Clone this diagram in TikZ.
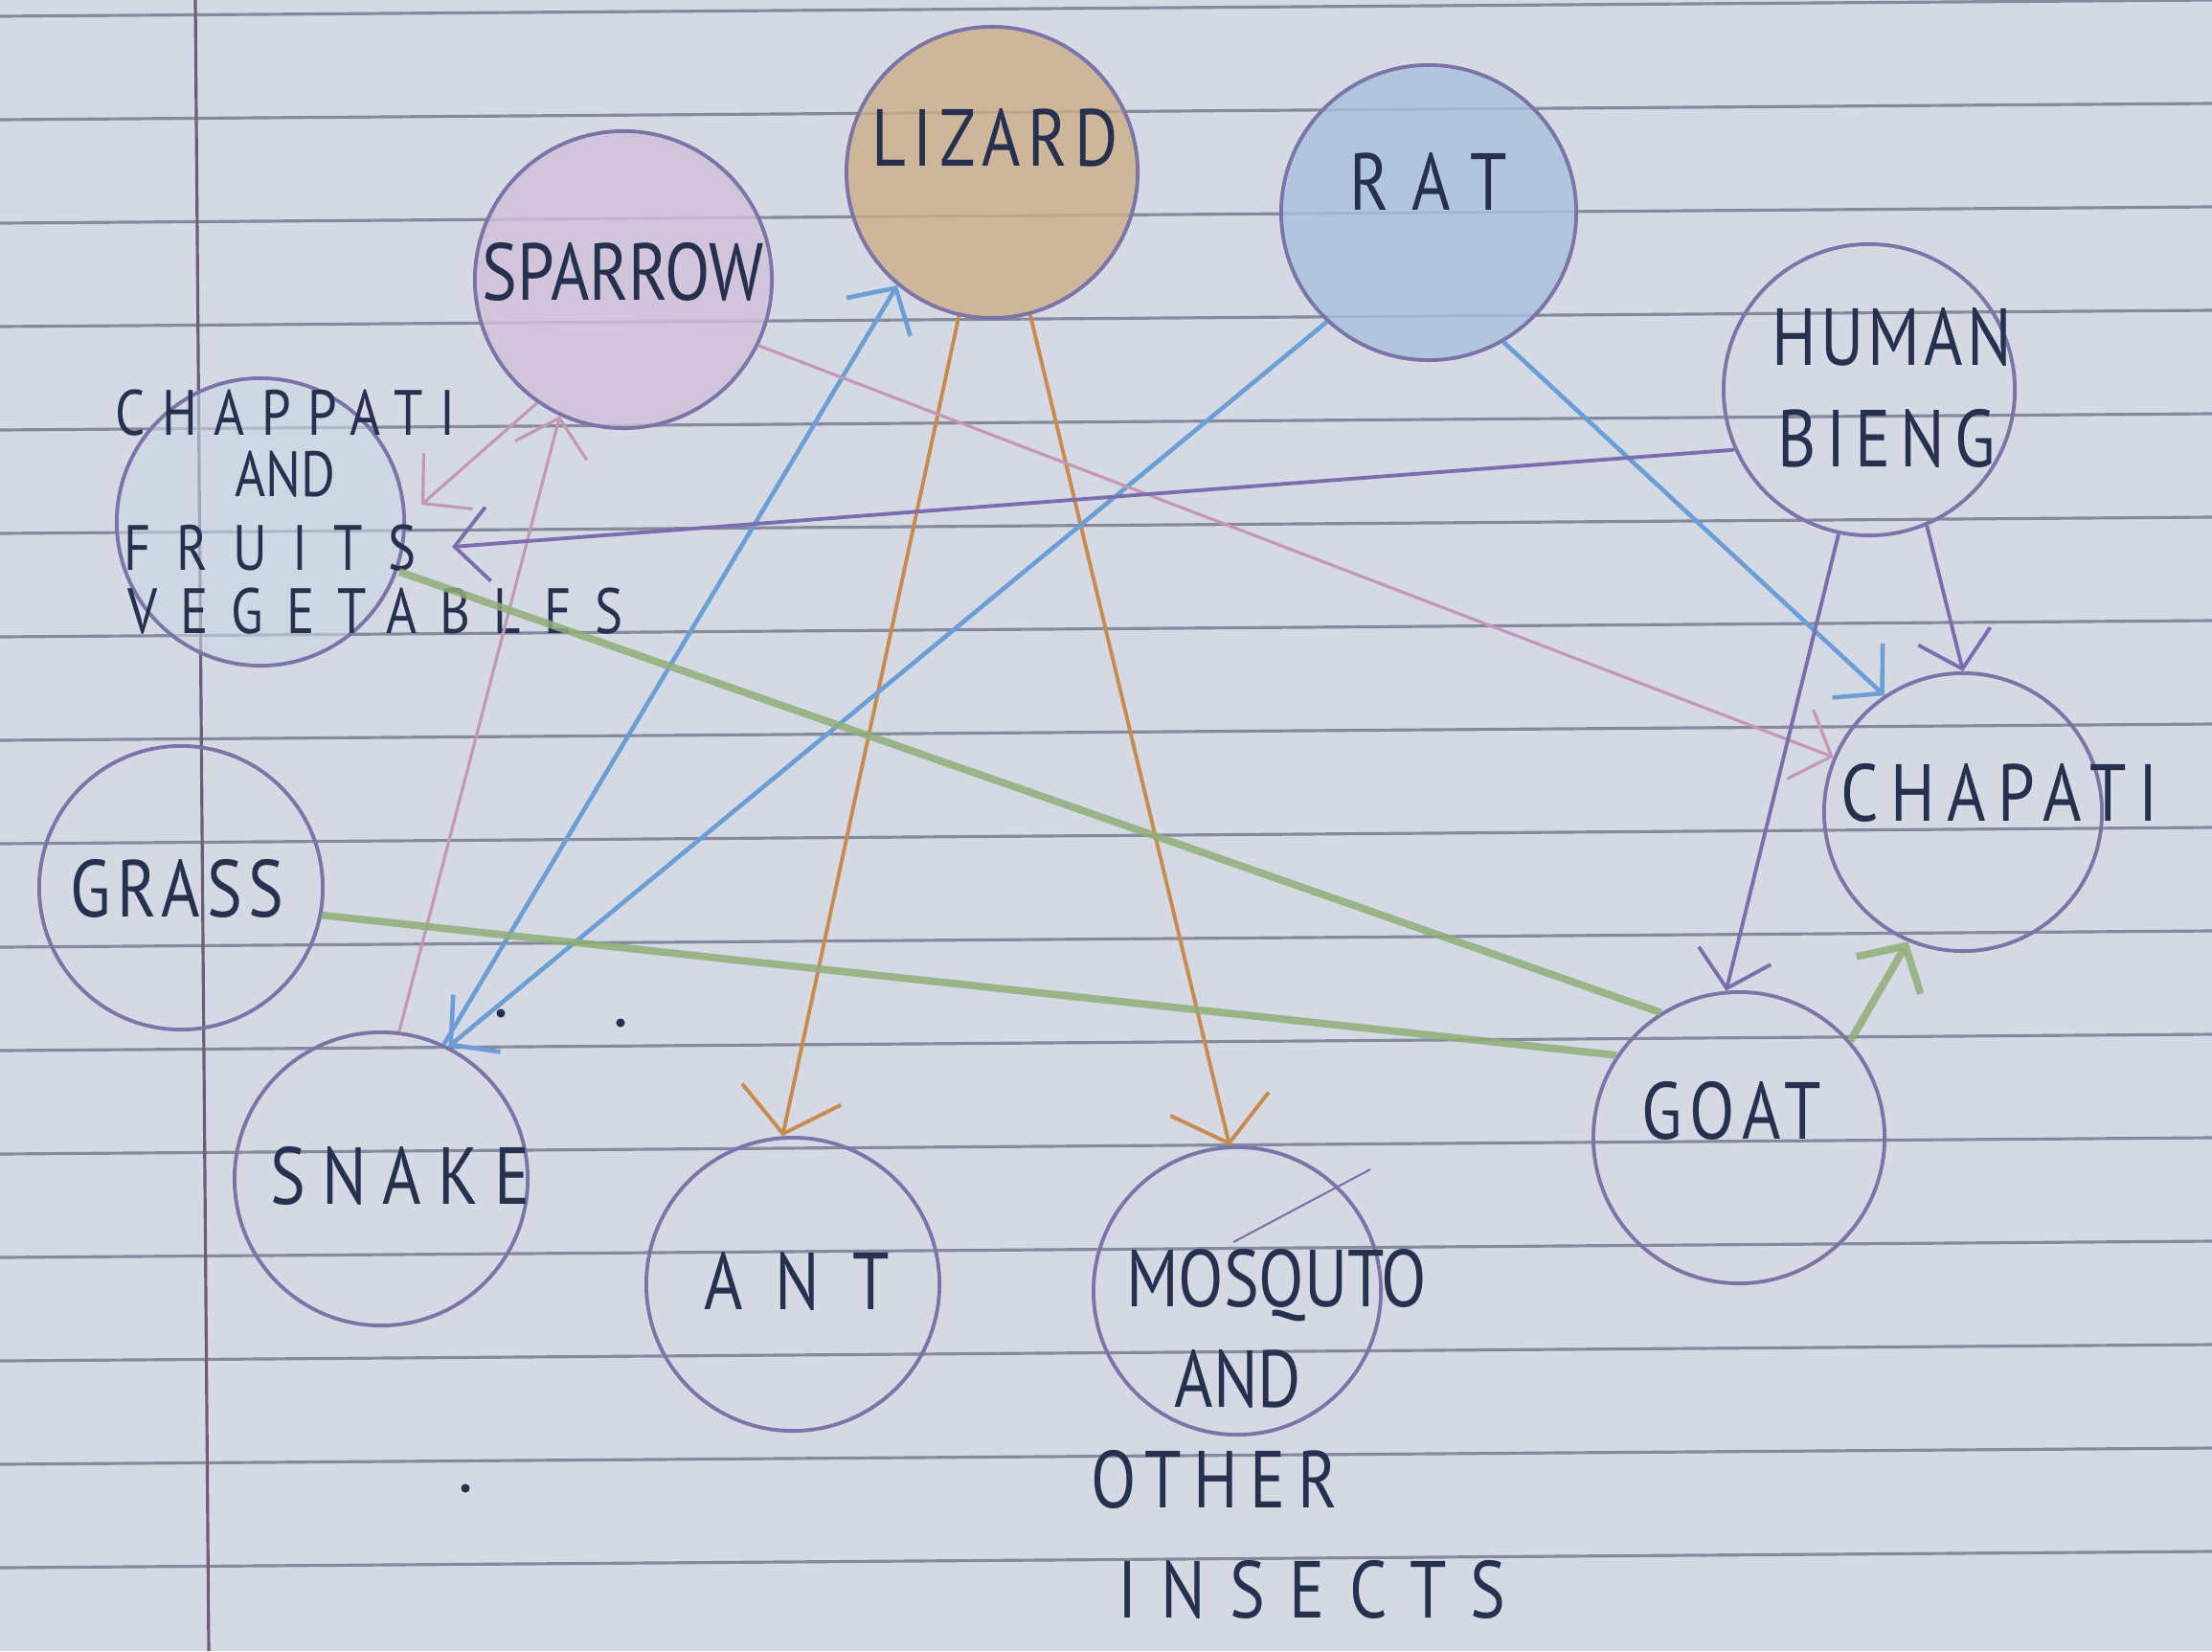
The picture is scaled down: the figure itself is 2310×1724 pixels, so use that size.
\documentclass[tikz,border=0pt]{standalone}
\usepackage{fontspec}
\setmainfont{PT Sans}[FakeStretch=0.82]
\usetikzlibrary{arrows.meta}
\definecolor{paper}{HTML}{D5D9E3}
\definecolor{rulec}{HTML}{858A9E}
\definecolor{marginc}{HTML}{6A5E78}
\definecolor{ringc}{HTML}{7B74A8}
\definecolor{ink}{HTML}{26304F}
\definecolor{lizfill}{HTML}{CDAE88}
\definecolor{ratfill}{HTML}{A9C1DF}
\definecolor{spafill}{HTML}{D2BFD9}
\definecolor{fvfill}{HTML}{CCD5E5}
\definecolor{orangeC}{HTML}{C98A4E}
\definecolor{blueC}{HTML}{6A9ED6}
\definecolor{pinkC}{HTML}{C497B8}
\definecolor{purpC}{HTML}{7B6DAE}
\definecolor{greenC}{HTML}{8FAE78}
\newcommand\lsp[1]{\addfontfeature{LetterSpace=#1}}
\begin{document}
\begin{tikzpicture}[x=0.01cm,y=-0.01cm,
  ringnode/.style={circle, draw=ringc, line width=1.1pt, inner sep=0pt},
  lbl/.style={text=ink, inner sep=0pt, font=\fontsize{24}{30}\selectfont},
  smalllbl/.style={text=ink, inner sep=0pt, font=\fontsize{19}{24}\selectfont},
  arr/.style={-{Straight Barb[length=10pt,width=22pt]}},
  arrbig/.style={-{Straight Barb[length=12pt,width=30pt]}},
  orangeE/.style={draw=orangeC, line width=1.1pt},
  blueE/.style={draw=blueC, line width=1.3pt},
  pinkE/.style={draw=pinkC, line width=0.9pt},
  purpE/.style={draw=purpC, line width=1.1pt},
  greenE/.style={draw=greenC, line width=2.2pt, draw opacity=0.85},
  rulel/.style={draw=rulec, line width=0.9pt}
]
\useasboundingbox (0,0) rectangle (2310,1724);
\fill[paper] (0,0) rectangle (2310,1724);
% ruled paper
\foreach \k in {-3,...,12} \draw[rulel] (0,{341+108*\k}) -- (2310,{324+108*\k});
\draw[draw=marginc, line width=0.9pt] (204,0) -- (218,1724);

% circles
\node[ringnode, fill=lizfill, fill opacity=0.8, minimum size=3.04cm] (liz) at (1036,180) {};
\node[ringnode, fill=ratfill, fill opacity=0.8, minimum size=3.08cm] (rat) at (1492,222) {};
\node[ringnode, fill=spafill, fill opacity=0.8, minimum size=3.1cm] (spa) at (651,292) {};
\node[ringnode, minimum size=3.04cm] (hum) at (1952,407) {};
\node[ringnode, fill=fvfill, fill opacity=0.6, minimum size=3.0cm] (fvc) at (272,545) {};
\node[ringnode, minimum size=2.96cm] (gra) at (189,927) {};
\node[ringnode, minimum size=3.06cm] (sna) at (398,1231) {};
\node[ringnode, minimum size=3.06cm] (ant) at (828,1341) {};
\node[ringnode, minimum size=3.0cm] (mos) at (1292,1348) {};
\node[ringnode, minimum size=3.04cm] (goa) at (1816,1188) {};
\node[ringnode, minimum size=2.9cm] (cha) at (2050,848) {};

% labels
\node[lbl] (lizT) at (1039,144) {\lsp{9}LIZARD};
\node[lbl] (ratT) at (1492,189) {\lsp{30}RAT};
\node[lbl] (spaT) at (651,284) {SPARROW};
\node[lbl] (humT1) at (1976,352) {\lsp{5}HUMAN};
\node[lbl] (humT2) at (1970,458) {\lsp{12}BIENG};
\node[lbl] (chaT) at (2088,828) {\lsp{15}CHAPATI};
\node[lbl] (goaT) at (1808,1160) {\lsp{10}GOAT};
\node[lbl] (graT) at (185,928) {\lsp{8}GRASS};
\node[lbl] (snaT) at (418,1228) {\lsp{20}SNAKE};
\node[lbl] (antT) at (832,1338) {\lsp{40}ANT};
\node[lbl] (mosT1) at (1333,1342) {MOSQUTO};
\node[lbl] (mosT2) at (1293,1440) {AND};
\node[lbl] (mosT3) at (1268,1545) {\lsp{15}OTHER};
\node[lbl] (mosT4) at (1370,1660) {\lsp{30}INSECTS};
\node[smalllbl] (fvT1) at (298,431) {\lsp{26}CHAPPATI};
\node[smalllbl] (fvT2) at (298,495) {AND};
\node[smalllbl] (fvT3) at (282,572) {\lsp{40}FRUITS};
\node[smalllbl] (fvT4) at (392,638) {\lsp{36}VEGETABLES};

% free ends near the fruits label
\coordinate (fvA) at (440,527);
\coordinate (fvB) at (472,571);
\coordinate (fvC) at (417,597);

% connectors
\draw[orangeE, arrbig] (liz.257.7) -- (ant.94);
\draw[orangeE, arrbig] (liz.285.8) -- (mos.93.8);
\draw[blueE, arr] (sna.65.3) -- (liz.230.7);
\draw[blueE, arr] (rat.227.2) -- (sna.63.4);
\draw[blueE, arr] (rat.300.3) -- (cha.124.8);
\draw[pinkE, arr] (spa.235.9) -- (fvA);
\draw[pinkE, arr] (sna.83.5) -- (spa.245.1);
\draw[pinkE, arr] (spa.334.5) -- (cha.157.3);
\draw[purpE, arr] (hum.204.4) -- (fvB);
\draw[purpE, arr] (hum.293.7) -- (cha.90);
\draw[purpE, arr] (hum.258) -- (goa.95);
\draw[greenE] (goa.122.8) -- (fvC);
\draw[greenE] (goa.146) -- (gra.349.8);
\draw[greenE, arr] (goa.41.9) -- (cha.247.7);

% stray pencil marks
\fill[ink] (523,1058) circle (1.3pt);
\fill[ink] (648,1068) circle (1.3pt);
\fill[ink] (486,1554) circle (1.3pt);
\draw[draw=ringc, line width=0.6pt] (1288,1297) -- (1431,1221);
\end{tikzpicture}
\end{document}
